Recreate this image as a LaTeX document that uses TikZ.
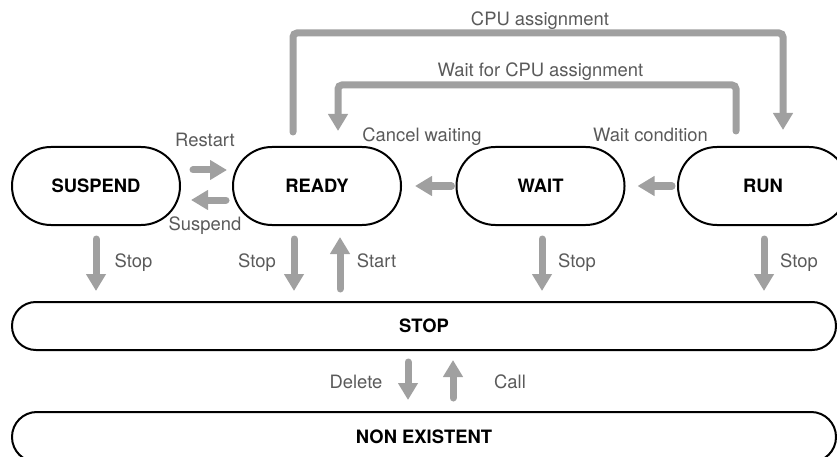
\documentclass[tikz,border=0pt]{standalone}
\usepackage{fontspec}
\setmainfont{TeX Gyre Heros}
\usetikzlibrary{arrows.meta}
\definecolor{arrgray}{RGB}{160,160,160}
\definecolor{lblgray}{RGB}{90,90,90}
\begin{document}
\begin{tikzpicture}[x=1pt,y=-1pt,
  state/.style={draw=black,line width=2pt,rounded corners=38.9pt,minimum width=168pt,minimum height=78pt,inner sep=0pt,font=\fontsize{18.4}{20}\selectfont\bfseries},
  bar/.style={draw=black,line width=2pt,rounded corners=23.9pt,minimum width=824pt,minimum height=48pt,inner sep=0pt,font=\fontsize{18.4}{20}\selectfont\bfseries},
  arr/.style={draw=arrgray,line width=7pt,line cap=round,-{Triangle[width=19pt,length=17pt]}},
  lbl/.style={text=lblgray,font=\fontsize{18.4}{20}\selectfont,anchor=base,inner sep=0pt}]
\useasboundingbox (0,0) rectangle (837,457);
% states
\node[state] (suspend) at (96,186) {SUSPEND};
\node[state] (ready) at (317,186) {READY};
\node[state] (wait) at (540.5,186) {WAIT};
\node[state,minimum width=170pt] (run) at (763,186) {RUN};
\node[bar] (stop) at (424,326) {STOP};
\node[bar,minimum height=50pt,rounded corners=24.9pt] (nonex) at (424,437) {NON EXISTENT};
% horizontal arrows
\draw[arr] ([xshift=12pt,yshift=16pt]suspend.east) -- ([xshift=-5pt,yshift=16pt]ready.west);
\draw[arr] ([xshift=-6pt,yshift=-14pt]ready.west) -- ([xshift=10pt,yshift=-14pt]suspend.east);
\draw[arr] ([xshift=-4pt]wait.west) -- ([xshift=13pt]ready.east);
\draw[arr] ([xshift=-5pt]run.west) -- ([xshift=12pt]wait.east);
% vertical arrows to STOP
\draw[arr] ([yshift=-13pt]suspend.south) -- ([yshift=10pt]suspend.south |- stop.north);
\draw[arr] ([xshift=-23pt,yshift=-13pt]ready.south) -- ([xshift=-23pt,yshift=10pt]ready.south |- stop.north);
\draw[arr] ([xshift=23pt,yshift=12pt]ready.south |- stop.north) -- ([xshift=23pt,yshift=-11pt]ready.south);
\draw[arr] ([xshift=1.5pt,yshift=-13pt]wait.south) -- ([xshift=1.5pt,yshift=10pt]wait.south |- stop.north);
\draw[arr] ([xshift=1pt,yshift=-13pt]run.south) -- ([xshift=1pt,yshift=10pt]run.south |- stop.north);
% STOP <-> NON EXISTENT
\draw[arr] ([xshift=-16pt,yshift=-11pt]stop.south) -- ([xshift=-16pt,yshift=11pt]nonex.north);
\draw[arr] ([xshift=29pt,yshift=13pt]nonex.north) -- ([xshift=29pt,yshift=-9pt]stop.south);
% top connectors
\coordinate (c1) at (540,33);
\coordinate (c2) at (540,85);
\draw[arr,rounded corners=4pt] ([xshift=-24pt,yshift=14pt]ready.north) |- (c1) -| ([xshift=20pt,yshift=16pt]run.north);
\draw[arr,rounded corners=4pt] ([xshift=-27pt,yshift=15pt]run.north) |- (c2) -| ([xshift=21pt,yshift=15pt]ready.north);
% labels
\node[lbl] (l1) at (540,26) {CPU assignment};
\node[lbl] (l2) at (540.5,77) {Wait for CPU assignment};
\node[lbl] (l3) at (422,142) {Cancel waiting};
\node[lbl] (l4) at (650.5,142) {Wait condition};
\node[lbl] (l5) at (205,147) {Restart};
\node[lbl] (l6) at (205,230) {Suspend};
\node[lbl] (l7) at (133.5,267) {Stop};
\node[lbl] (l8) at (257,267) {Stop};
\node[lbl] (l9) at (376.5,267) {Start};
\node[lbl] (l10) at (577,267) {Stop};
\node[lbl] (l11) at (799,267) {Stop};
\node[lbl] (l12) at (356,388) {Delete};
\node[lbl] (l13) at (510,388) {Call};
\end{tikzpicture}
\end{document}
